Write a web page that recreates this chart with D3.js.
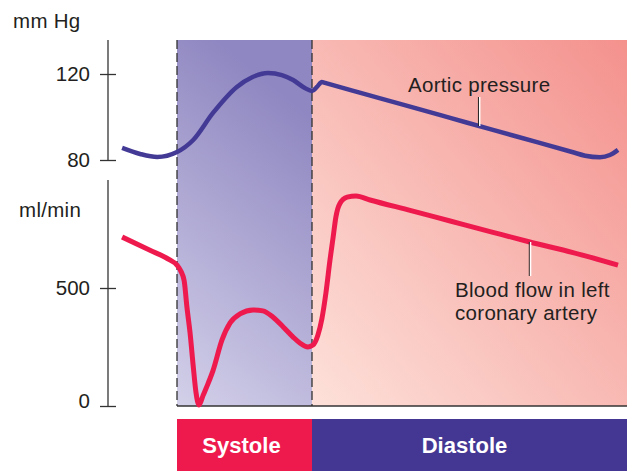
<!DOCTYPE html>
<html><head><meta charset="utf-8">
<script src="https://cdn.jsdelivr.net/npm/d3@7"></script>
<style>
html,body{margin:0;padding:0;background:#fff;}
svg{display:block;font-family:"Liberation Sans",Arial,Helvetica,sans-serif;}
</style></head>
<body>
<svg id="c" width="627" height="471"></svg>
<script>
// ---- data (time in ms; systole 0-300 ms, diastole 300-1000 ms) ----
const phases = ["Systole", "Diastole"];
const phaseBounds = [0, 300, 1000];
const pressureTicks = [80, 120];
const flowTicks = [0, 500];
const pressureTime = [-122,-82,-44,0,36,80,133,167,202,233,258,284,300,311,322,327,400,500,607,700,800,880,907,940,962,980];
const pressureVal  = [85.6,82.8,81.4,83.7,89.3,101.9,114,118.5,120.5,119.5,117.2,113.5,112.1,114,116.3,116.0,111.7,105.9,99.6,94.1,88.3,83.6,82.0,81.3,82.3,84.7];
const flowTime = [-122,-60,-16,0,9,16,22,29,36,42,49,58,69,80,100,118,140,169,191,213,236,258,273,291,302,313,322,331,340,347,353,362,378,398,429,520,607,700,784,880,980];
const flowVal  = [716,660,619,597,570,530,420,310,170,60,4,45,95,150,280,352,390,407,403,377,335,292,267,250,258,300,370,480,619,716,800,858,885,890,873,828,784,737,695,650,597];
const labelPressure = "Aortic pressure";
const labelFlow = ["Blood flow in left", "coronary artery"];
const unitPressure = "mm Hg";
const unitFlow = "ml/min";

const svg = d3.select("#c");
const plotTop = 40, plotBottom = 406, plotLeft = 177, plotRight = 627;
const fs = "20.5px", ls = "0.3px";

const x = d3.scaleLinear().domain([0, 1000]).range([plotLeft, plotRight]);
const yP = d3.scaleLinear().domain([80, 120]).range([160, 74]);
const yF = d3.scaleLinear().domain([0, 500]).range([406, 288]);

// gradients
const defs = svg.append("defs");
const gS = defs.append("linearGradient").attr("id","gs").attr("x1",0).attr("y1",1).attr("x2",0.3).attr("y2",0);
gS.append("stop").attr("offset","0%").attr("stop-color","#d3d0e9");
gS.append("stop").attr("offset","100%").attr("stop-color","#8f87c1");
const gD = defs.append("linearGradient").attr("id","gd").attr("x1",0).attr("y1",1).attr("x2",1).attr("y2",0);
gD.append("stop").attr("offset","0%").attr("stop-color","#fde1da");
gD.append("stop").attr("offset","100%").attr("stop-color","#f4918d");

// phase backgrounds
svg.selectAll("rect.bg").data(phases).enter().append("rect")
  .attr("x",(d,i)=>x(phaseBounds[i])).attr("y",plotTop)
  .attr("width",(d,i)=>x(phaseBounds[i+1])-x(phaseBounds[i]))
  .attr("height",plotBottom-plotTop)
  .attr("fill",(d,i)=>i===0?"url(#gs)":"url(#gd)");

// dashed phase lines
svg.selectAll("line.dash").data(phaseBounds.slice(0,2)).enter().append("line")
  .attr("x1",d=>x(d)).attr("x2",d=>x(d)).attr("y1",plotTop).attr("y2",plotBottom)
  .attr("stroke","#333").attr("stroke-width",1.3).attr("stroke-dasharray","9,4");
svg.append("line").attr("x1",x(0)).attr("x2",plotRight).attr("y1",plotBottom).attr("y2",plotBottom)
  .attr("stroke","#333").attr("stroke-width",1.5);

// phase bars
const barY = 419, barH = 52;
const colors = ["#ee1a4e", "#443794"];
svg.selectAll("rect.bar").data(phases).enter().append("rect")
  .attr("x",(d,i)=>x(phaseBounds[i])).attr("y",barY)
  .attr("width",(d,i)=>x(phaseBounds[i+1])-x(phaseBounds[i])).attr("height",barH)
  .attr("fill",(d,i)=>colors[i]);
svg.selectAll("text.bar").data(phases).enter().append("text")
  .attr("x",(d,i)=>(x(phaseBounds[i])+x(phaseBounds[i+1]))/2 - (i===0?3:5)).attr("y",453)
  .attr("text-anchor","middle").attr("fill","#fff").attr("font-weight","bold")
  .attr("font-size","22px").text(d=>d);

// axes
const axX = 108;
function styleAxis(g){
  g.select(".domain").remove();
  g.selectAll(".tick line").attr("x1",-8).attr("x2",8).attr("stroke","#333").attr("stroke-width",1.3);
  g.selectAll(".tick text").attr("fill","#231f20").attr("font-size",fs)
    .attr("font-family","'Liberation Sans',Arial,sans-serif");
}
const gP = svg.append("g").attr("transform",`translate(${axX},0)`)
  .call(d3.axisLeft(yP).tickValues(pressureTicks).tickSize(8).tickPadding(10).tickFormat(d3.format("d")));
styleAxis(gP);
gP.append("line").attr("x1",0).attr("x2",0).attr("y1",plotTop).attr("y2",yP(80)).attr("stroke","#333").attr("stroke-width",1.3);
const gF = svg.append("g").attr("transform",`translate(${axX},0)`)
  .call(d3.axisLeft(yF).tickValues(flowTicks).tickSize(8).tickPadding(10).tickFormat(d3.format("d")));
styleAxis(gF);
gF.selectAll(".tick").filter(d=>d===0).select("text").attr("dy","0.05em");
gF.append("line").attr("x1",0).attr("x2",0).attr("y1",180).attr("y2",yF(0)).attr("stroke","#333").attr("stroke-width",1.3);

// unit labels
svg.append("text").attr("x",13).attr("y",28).attr("font-size",fs).attr("letter-spacing",ls).attr("fill","#231f20").text(unitPressure);
svg.append("text").attr("x",19).attr("y",217).attr("font-size",fs).attr("letter-spacing",ls).attr("fill","#231f20").text(unitFlow);

// curves
const pData = pressureTime.map((t,i)=>({t, v:pressureVal[i]}));
const fData = flowTime.map((t,i)=>({t, v:flowVal[i]}));
svg.append("path").datum(pData)
  .attr("d", d3.line().x(d=>x(d.t)).y(d=>yP(d.v)).curve(d3.curveMonotoneX))
  .attr("fill","none").attr("stroke","#433a96").attr("stroke-width",4.5).attr("stroke-linecap","butt");
svg.append("path").datum(fData)
  .attr("d", d3.line().x(d=>x(d.t)).y(d=>yF(d.v)).curve(d3.curveMonotoneX))
  .attr("fill","none").attr("stroke","#ee1a4e").attr("stroke-width",5).attr("stroke-linecap","butt");

// labels with leader lines
function interp(ts, vs, t){
  for(let i=0;i<ts.length-1;i++){ if(t>=ts[i] && t<=ts[i+1]){ const f=(t-ts[i])/(ts[i+1]-ts[i]); return vs[i]+f*(vs[i+1]-vs[i]); } }
  return vs[vs.length-1];
}
const tP = 671, tF = 784;
const lxP = x(tP), lyP = yP(interp(pressureTime, pressureVal, tP));
svg.append("line").attr("x1",lxP-0.5).attr("x2",lxP-0.5).attr("y1",97).attr("y2",lyP).attr("stroke","#222").attr("stroke-width",1);
svg.append("line").attr("x1",lxP+0.8).attr("x2",lxP+0.8).attr("y1",97).attr("y2",lyP).attr("stroke","#fff").attr("stroke-width",1.4);
svg.append("text").attr("x",408).attr("y",92).attr("font-size",fs).attr("letter-spacing",ls).attr("fill","#231f20").text(labelPressure);

const lxF = x(tF), lyF = yF(interp(flowTime, flowVal, tF));
svg.append("line").attr("x1",lxF-0.5).attr("x2",lxF-0.5).attr("y1",lyF).attr("y2",276).attr("stroke","#222").attr("stroke-width",1);
svg.append("line").attr("x1",lxF+0.8).attr("x2",lxF+0.8).attr("y1",lyF).attr("y2",276).attr("stroke","#fff").attr("stroke-width",1.4);
svg.append("text").attr("x",455).attr("y",297).attr("font-size",fs).attr("letter-spacing",ls).attr("fill","#231f20")
  .selectAll("tspan").data(labelFlow).enter().append("tspan")
  .attr("x",455).attr("dy",(d,i)=>i===0?0:23).text(d=>d);
</script>
</body></html>
